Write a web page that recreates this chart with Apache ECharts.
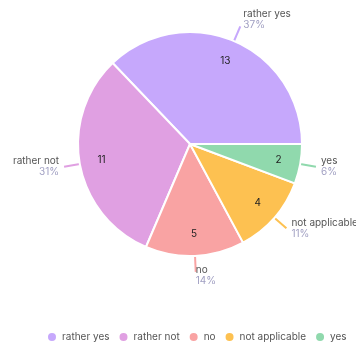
<!DOCTYPE html>
<html>
<head>
<meta charset="utf-8">
<script src="https://cdn.jsdelivr.net/npm/echarts@6/dist/echarts.min.js"></script>
<style>
  html, body { margin: 0; padding: 0; background: #fff; }
  #chart { width: 356px; height: 345px; }
</style>
</head>
<body>
<div id="chart"></div>
<script>
// Answer categories and response counts
const categories = ['rather yes', 'rather not', 'no', 'not applicable', 'yes'];
const counts = [13, 11, 5, 4, 2];
const colors = ['#c6a8fc', '#e0a0e2', '#f9a3a3', '#fdc151', '#90d9ad'];

const FONT = 'Inter, "Noto Sans", sans-serif';
const CENTER = [190, 144];
const RADIUS = 112;
const total = counts.reduce((a, b) => a + b, 0);

// small per-slice nudges of the outer labels
const labelTweaks = {
  'rather yes': { padding: [0, 0, 14, 0], distanceToLabelLine: 3 },
  'no': { padding: [8, 0, 0, 0], distanceToLabelLine: 0 }
};

const data = categories.map((name, i) => ({
  name: name,
  value: counts[i],
  itemStyle: { color: colors[i] },
  label: labelTweaks[name] || {}
}));

const chart = echarts.init(document.getElementById('chart'), null, { renderer: 'canvas' });

chart.setOption({
  animation: false,
  textStyle: { fontFamily: FONT },
  legend: {
    top: 326,
    left: 41,
    icon: 'circle',
    itemWidth: 10,
    itemHeight: 10,
    itemGap: 8,
    textStyle: { fontFamily: FONT, fontSize: 10, color: '#555' },
    data: categories.map((name, i) => ({ name: name, itemStyle: { color: colors[i] } }))
  },
  series: [
    {
      type: 'pie',
      center: CENTER,
      radius: RADIUS,
      startAngle: 0,
      clockwise: false,
      data: data,
      itemStyle: { borderColor: '#fff', borderWidth: 2 },
      label: {
        show: true,
        position: 'outside',
        overflow: 'none',
        formatter: p => '{n|' + p.name + '}\n{p|' + Math.round(p.value / total * 100) + '%}',
        distanceToLabelLine: 5,
        rich: {
          n: { fontFamily: FONT, fontSize: 10, color: '#555', lineHeight: 11 },
          p: { fontFamily: FONT, fontSize: 10, color: '#a09fc2', lineHeight: 11 }
        }
      },
      labelLine: {
        show: true,
        length: 16,
        length2: 0,
        lineStyle: { width: 2 }
      },
      emphasis: { disabled: true }
    },
    {
      // value counts drawn inside each slice
      type: 'pie',
      center: CENTER,
      radius: [62, RADIUS],
      startAngle: 0,
      clockwise: false,
      silent: true,
      data: categories.map((name, i) => ({ name: name, value: counts[i] })),
      itemStyle: { color: 'rgba(0,0,0,0)' },
      label: {
        show: true,
        position: 'inside',
        formatter: '{c}',
        fontFamily: FONT,
        fontSize: 10,
        color: '#222'
      },
      labelLine: { show: false },
      emphasis: { disabled: true }
    }
  ]
});
</script>
</body>
</html>
